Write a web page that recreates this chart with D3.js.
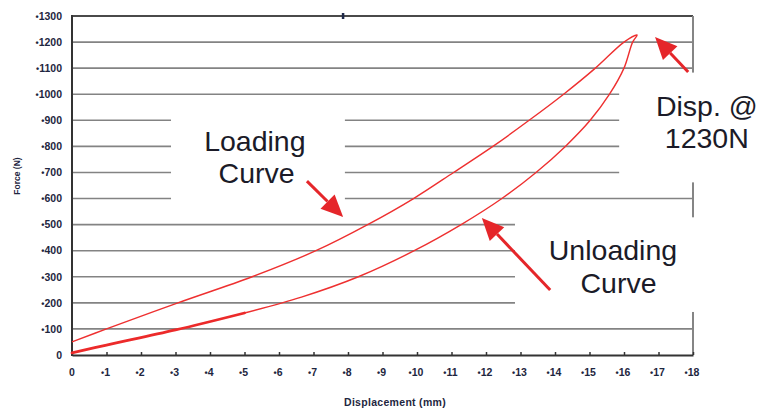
<!DOCTYPE html>
<html>
<head>
<meta charset="utf-8">
<script src="https://cdn.jsdelivr.net/npm/d3@7"></script>
<style>
  body { margin: 0; background: #fff; }
  svg { display: block; font-family: "Liberation Sans", Arial, sans-serif; }
</style>
</head>
<body>
<svg id="chart" width="760" height="410"></svg>
<script>
// force-displacement data
const loadingDisp = [0, 1.0, 3.07, 5.22, 7.07, 8.57, 9.9, 11.06, 12.2, 13.25, 14.25, 15.17, 16.0, 16.38];
const loadingForce = [50, 100, 200, 300, 400, 500, 600, 700, 800, 900, 1000, 1100, 1200, 1227];
const unloadingDisp = [16.25, 16.0, 15.58, 15.02, 14.3, 13.45, 12.46, 11.28, 9.92, 8.3, 6.65, 5.0];
const unloadingForce = [1200, 1100, 1000, 900, 800, 700, 600, 500, 400, 300, 222, 161];
const tailDisp = [5.0, 3.0, 1.0, 0];
const tailForce = [161, 96, 38, 8];

const xTicks = d3.range(0, 19);
const yTicks = d3.range(0, 1400, 100);

// annotation text and arrows (data units)
const labels = [
  { lines: ["Loading", "Curve"], x: [5.3, 5.35], f: [782, 660] },
  { lines: ["Unloading", "Curve"], x: [15.68, 15.84], f: [364, 238] },
  { lines: ["Disp. @", "1230N"], x: [18.4, 18.4], f: [916, 794] }
];
const arrows = [
  { from: [6.81, 667], to: [7.86, 529] },
  { from: [13.86, 249], to: [11.88, 525] },
  { from: [17.86, 1085], to: [16.9, 1219] }
];
// white backgrounds behind labels that hide the grid
const labelBoxes = [
  { x0: 2.87, x1: 7.91, f0: 580, f1: 950 },
  { x0: 12.84, x1: 19.6, f0: 165, f1: 528 },
  { x0: 15.86, x1: 19.6, f0: 662, f1: 1083 }
];

const svg = d3.select("#chart");
const x = d3.scaleLinear().domain([0, 18]).range([72, 693]);
const y = d3.scaleLinear().domain([0, 1300]).range([355, 16]);

// grid
svg.append("g")
  .selectAll("line")
  .data(yTicks.filter((d) => d > 0))
  .join("line")
  .attr("x1", x(0))
  .attr("x2", x(18))
  .attr("y1", (d) => y(d))
  .attr("y2", (d) => y(d))
  .attr("stroke", (d) => (d === 1300 ? "#4a4a4a" : "#838383"))
  .attr("stroke-width", (d) => (d === 1300 ? 2 : 1.6));

// right border
svg.append("line")
  .attr("x1", x(18)).attr("x2", x(18))
  .attr("y1", y(1300)).attr("y2", y(0))
  .attr("stroke", "#858585")
  .attr("stroke-width", 2);

// small mark on the top border
svg.append("rect")
  .attr("x", x(7.85) - 1)
  .attr("y", y(1300) - 3)
  .attr("width", 2.5)
  .attr("height", 6)
  .attr("fill", "#1f2a4a");

svg.append("g")
  .selectAll("rect")
  .data(labelBoxes)
  .join("rect")
  .attr("x", (d) => x(d.x0))
  .attr("y", (d) => y(d.f1))
  .attr("width", (d) => x(d.x1) - x(d.x0))
  .attr("height", (d) => y(d.f0) - y(d.f1))
  .attr("fill", "#fff");

// axes
const xAxis = svg.append("g")
  .attr("transform", `translate(0,${y(0)})`)
  .call(d3.axisBottom(x).tickValues(xTicks).tickSizeInner(-3).tickSizeOuter(0).tickFormat(() => ""));
xAxis.select(".domain").attr("stroke", "#333").attr("stroke-width", 2);
xAxis.selectAll(".tick line").attr("stroke", "#333").attr("stroke-width", 1.5);

svg.append("line")
  .attr("x1", x(0)).attr("x2", x(0))
  .attr("y1", y(1300) - 1).attr("y2", y(0) + 1)
  .attr("stroke", "#333")
  .attr("stroke-width", 2);

const tickColor = "#1e2640";
function tickText(sel, d) {
  if (d !== 0) sel.append("tspan").attr("font-size", 9).text("•");
  sel.append("tspan").text(d);
}

svg.append("g")
  .selectAll("text")
  .data(yTicks)
  .join("text")
  .attr("x", 62)
  .attr("y", (d) => y(d) + 3.8)
  .attr("text-anchor", "end")
  .attr("font-size", 10.5)
  .attr("font-weight", "bold")
  .attr("fill", tickColor)
  .each(function (d) { tickText(d3.select(this), d); });

svg.append("g")
  .selectAll("text")
  .data(xTicks)
  .join("text")
  .attr("x", (d) => x(d) - (d === 0 ? 0 : 1))
  .attr("y", 376)
  .attr("text-anchor", "middle")
  .attr("font-size", 10.5)
  .attr("font-weight", "bold")
  .attr("fill", tickColor)
  .each(function (d) { tickText(d3.select(this), d); });

svg.append("text")
  .attr("x", 395)
  .attr("y", 406)
  .attr("text-anchor", "middle")
  .attr("font-size", 10.5)
  .attr("font-weight", "bold")
  .attr("letter-spacing", 0.3)
  .attr("fill", tickColor)
  .text("Displacement (mm)");

svg.append("text")
  .attr("transform", "translate(20,176) rotate(-90)")
  .attr("text-anchor", "middle")
  .attr("font-size", 8.5)
  .attr("font-weight", "bold")
  .attr("fill", tickColor)
  .text("Force (N)");

// curves
const loopPts = loadingDisp.map((d, i) => [d, loadingForce[i]])
  .concat(unloadingDisp.map((d, i) => [d, unloadingForce[i]]));
const tailPts = tailDisp.map((d, i) => [d, tailForce[i]]);
const line = d3.line()
  .x((d) => x(d[0]))
  .y((d) => y(d[1]))
  .curve(d3.curveCatmullRom.alpha(0.5));

svg.append("path")
  .attr("d", line(loopPts))
  .attr("fill", "none")
  .attr("stroke", "#ee3030")
  .attr("stroke-width", 1.4);

svg.append("path")
  .attr("d", line(tailPts))
  .attr("fill", "none")
  .attr("stroke", "#ec2a2a")
  .attr("stroke-width", 2.8)
  .attr("stroke-linecap", "round");

// arrows
const arrowColor = "#e5262a";
arrows.forEach((a) => {
  const x1 = x(a.from[0]), y1 = y(a.from[1]);
  const x2 = x(a.to[0]), y2 = y(a.to[1]);
  const ang = Math.atan2(y2 - y1, x2 - x1);
  const headLen = 22, headHalf = 10;
  const bx = x2 - headLen * Math.cos(ang), by = y2 - headLen * Math.sin(ang);
  svg.append("line")
    .attr("x1", x1).attr("y1", y1)
    .attr("x2", bx).attr("y2", by)
    .attr("stroke", arrowColor)
    .attr("stroke-width", 3);
  const px = -Math.sin(ang), py = Math.cos(ang);
  svg.append("path")
    .attr("d", `M${x2},${y2}L${bx + headHalf * px},${by + headHalf * py}L${bx - headHalf * px},${by - headHalf * py}Z`)
    .attr("fill", arrowColor);
});

// labels
labels.forEach((l) => {
  l.lines.forEach((t, i) => {
    svg.append("text")
      .attr("x", x(l.x[i]))
      .attr("y", y(l.f[i]))
      .attr("text-anchor", "middle")
      .attr("font-size", 28.5)
      .attr("fill", "#1b1b28")
      .text(t);
  });
});
</script>
</body>
</html>
